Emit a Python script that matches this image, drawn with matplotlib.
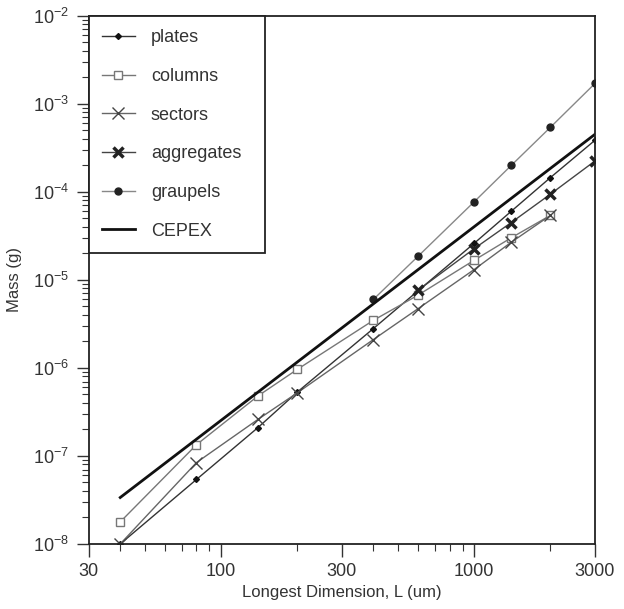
import matplotlib
matplotlib.use("Agg")
import matplotlib.pyplot as plt
from matplotlib.ticker import FixedLocator, NullFormatter, LogLocator

plt.rcParams['font.family'] = ['Liberation Sans', 'DejaVu Sans']
plt.rcParams['mathtext.fontset'] = 'custom'
plt.rcParams['mathtext.rm'] = 'Liberation Sans'

# valeurs
plates_L = [40, 80, 140, 200, 400, 600, 1000, 1400, 2000, 3000]
plates_m = [1.0e-8, 5.4e-8, 2.1e-7, 5.3e-7, 2.8e-6, 7.5e-6, 2.6e-5, 6.0e-5, 1.45e-4, 3.85e-4]

columns_L = [40, 80, 140, 200, 400, 600, 1000, 1400, 2000]
columns_m = [1.78e-8, 1.34e-7, 4.8e-7, 9.6e-7, 3.47e-6, 6.7e-6, 1.67e-5, 3.0e-5, 5.4e-5]

sectors_L = [40, 80, 140, 200, 400, 600, 1000, 1400, 2000]
sectors_m = [1.0e-8, 8.4e-8, 2.6e-7, 5.2e-7, 2.1e-6, 4.7e-6, 1.31e-5, 2.67e-5, 5.4e-5]

aggregates_L = [600, 1000, 1400, 2000, 3000]
aggregates_m = [7.6e-6, 2.26e-5, 4.47e-5, 9.4e-5, 2.24e-4]

graupels_L = [400, 600, 1000, 1400, 2000, 3000]
graupels_m = [6.0e-6, 1.85e-5, 7.7e-5, 1.99e-4, 5.4e-4, 1.7e-3]

cepex_L = [40, 3000]
cepex_m = [3.37e-8, 4.5e-4]

xticks = [30, 100, 300, 1000, 3000]
xticklabels = ['30', '100', '300', '1000', '3000']

fig = plt.figure(figsize=(6.24, 6.09), dpi=100)
ax = fig.add_axes([0.142, 0.1068, 0.8115, 0.8674])

ax.plot(plates_L, plates_m, color='#333333', lw=1.0, marker='D', ms=3,
        mfc='#111111', mec='#111111', label='plates')
ax.plot(columns_L, columns_m, color='#777777', lw=1.0, marker='s', ms=6,
        mfc='white', mec='#777777', label='columns')
ax.plot(sectors_L, sectors_m, color='#666666', lw=1.0, marker='x', ms=9,
        mew=1.0, mec='#444444', label='sectors')
ax.plot(aggregates_L, aggregates_m, color='#444444', lw=1.0, marker='x', ms=7.5,
        mew=2.5, mec='#222222', label='aggregates')
ax.plot(graupels_L, graupels_m, color='#888888', lw=1.0, marker='o', ms=5,
        mfc='#222222', mec='#222222', label='graupels')
ax.plot(cepex_L, cepex_m, color='#111111', lw=2.0, label='CEPEX')

ax.set_xscale('log')
ax.set_yscale('log')
ax.set_xlim(30, 3000)
ax.set_ylim(1e-8, 1e-2)

ax.xaxis.set_major_locator(FixedLocator(xticks))
ax.set_xticklabels(xticklabels)
ax.xaxis.set_minor_locator(LogLocator(base=10, subs=range(2, 10), numticks=20))
ax.xaxis.set_minor_formatter(NullFormatter())
ax.yaxis.set_major_locator(LogLocator(base=10, numticks=20))
ax.yaxis.set_minor_locator(LogLocator(base=10, subs=range(2, 10), numticks=20))
ax.yaxis.set_minor_formatter(NullFormatter())

ax.tick_params(which='both', direction='out', top=False, right=False,
               labelsize=13, color='#333333')
ax.tick_params(which='major', length=9, width=1, pad=5)
ax.tick_params(which='minor', length=5, width=0.8)
for s in ax.spines.values():
    s.set_linewidth(1.3)
    s.set_color('#222222')

ax.set_xlabel('Longest Dimension, L (um)', fontsize=12, color='#333333', labelpad=3)
ax.set_ylabel('Mass (g)', fontsize=12, color='#333333', labelpad=8)
for t in ax.get_xticklabels() + ax.get_yticklabels():
    t.set_color('#333333')

# boîte de légende un peu plus large, comme sur l'original
leg = ax.legend(loc='upper left', bbox_to_anchor=(0, 0, 0.348, 1), mode='expand',
                borderaxespad=0, fontsize=13, fancybox=False,
                framealpha=1, edgecolor='#222222', handlelength=1.8,
                handletextpad=0.9, labelspacing=1.2, borderpad=0.75)
leg.get_frame().set_linewidth(1.3)
for t in leg.get_texts():
    t.set_color('#333333')

fig.savefig('out.png', dpi=100)
